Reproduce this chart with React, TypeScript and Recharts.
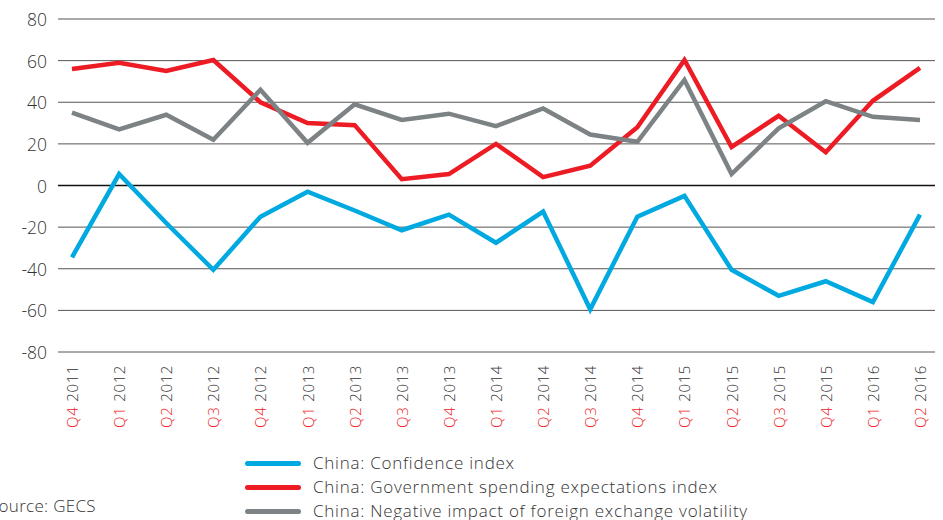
import { CartesianGrid, Line, LineChart, ReferenceLine, XAxis, YAxis } from "recharts";

const quarters = ["Q4", "Q1", "Q2", "Q3", "Q4", "Q1", "Q2", "Q3", "Q4", "Q1", "Q2", "Q3", "Q4", "Q1", "Q2", "Q3", "Q4", "Q1", "Q2"];
const years = ["2011", "2012", "2012", "2012", "2012", "2013", "2013", "2013", "2013", "2014", "2014", "2014", "2014", "2015", "2015", "2015", "2015", "2016", "2016"];

const confidence = [-34.5, 5.5, -18, -40.5, -15, -3, -12, -21.5, -14, -27.5, -12.5, -59.5, -15, -5, -40.5, -53, -46, -56, -14];
const govSpending = [56, 59, 55, 60.3, 40, 30, 29, 3, 5.5, 20, 4, 9.5, 28, 60.3, 18.5, 33.5, 16, 40.7, 56.5];
const fxVolatility = [35, 27, 34, 22, 46, 20.5, 39, 31.5, 34.5, 28.5, 37, 24.5, 21, 50.7, 5.5, 27.5, 40.5, 33, 31.5];

const yTicks = [-80, -60, -40, -20, 0, 20, 40, 60, 80];

const series = [
  { key: "confidence", name: "China: Confidence index", color: "#00a9e0" },
  { key: "gov", name: "China: Government spending expectations index", color: "#ed1c24" },
  { key: "fx", name: "China: Negative impact of foreign exchange volatility", color: "#7d8285" },
];

const data = quarters.map((q, i) => ({
  label: `${q} ${years[i]}`,
  confidence: confidence[i],
  gov: govSpending[i],
  fx: fxVolatility[i],
}));

const FONT = "'Open Sans', Lato, sans-serif";
const TEXT = "#333";

function XTick({ x, y, index }: any) {
  return (
    <g transform={`translate(${x},${y + 5}) rotate(-90)`}>
      <text textAnchor="end" dominantBaseline="central" fontSize={15} fontFamily={FONT} fontWeight={300} letterSpacing={0.6}>
        <tspan fill="#ed1c24">{quarters[index]}</tspan>
        <tspan fill={TEXT} dx={5}>{years[index]}</tspan>
      </text>
    </g>
  );
}

function YTick({ x, y, payload }: any) {
  return (
    <text x={x - 3} y={y} textAnchor="end" dominantBaseline="central" fontSize={17.5} fontFamily={FONT} fontWeight={300} fill={TEXT}>
      {payload.value}
    </text>
  );
}

export default function App() {
  return (
    <div style={{ position: "fixed", left: 0, top: 0, width: 943, height: 520, overflow: "hidden", background: "#fff", fontFamily: FONT }}>
      <LineChart width={943} height={520} data={data} margin={{ top: 19, right: 8, bottom: 78, left: 0 }}>
        <CartesianGrid vertical={false} stroke="#555" strokeWidth={1} />
        <XAxis
          dataKey="label"
          axisLine={false}
          tickLine={false}
          interval={0}
          height={90}
          padding={{ left: 14, right: 15 }}
          tick={<XTick />}
        />
        <YAxis
          domain={[-80, 80]}
          ticks={yTicks}
          axisLine={false}
          tickLine={false}
          width={58}
          tick={<YTick />}
        />
        <ReferenceLine y={0} stroke="#111" strokeWidth={1.3} />
        {series.map((s) => (
          <Line
            key={s.key}
            dataKey={s.key}
            name={s.name}
            stroke={s.color}
            strokeWidth={4.5}
            dot={false}
            activeDot={false}
            type="linear"
            isAnimationActive={false}
          />
        ))}
      </LineChart>
      <div style={{ position: "absolute", left: 245, top: 451 }}>
        {series.map((s) => (
          <div key={s.key} style={{ display: "flex", alignItems: "center", height: 24 }}>
            <div style={{ width: 56, height: 5, borderRadius: 3, background: s.color, marginRight: 12 }} />
            <span style={{ fontSize: 17, lineHeight: "20px", letterSpacing: 0.75, fontWeight: 300, color: TEXT, whiteSpace: "nowrap" }}>{s.name}</span>
          </div>
        ))}
      </div>
      <div style={{ position: "absolute", left: -11, top: 496, fontSize: 17, lineHeight: "20px", letterSpacing: 0.3, fontWeight: 300, color: TEXT }}>
        Source: GECS
      </div>
    </div>
  );
}
